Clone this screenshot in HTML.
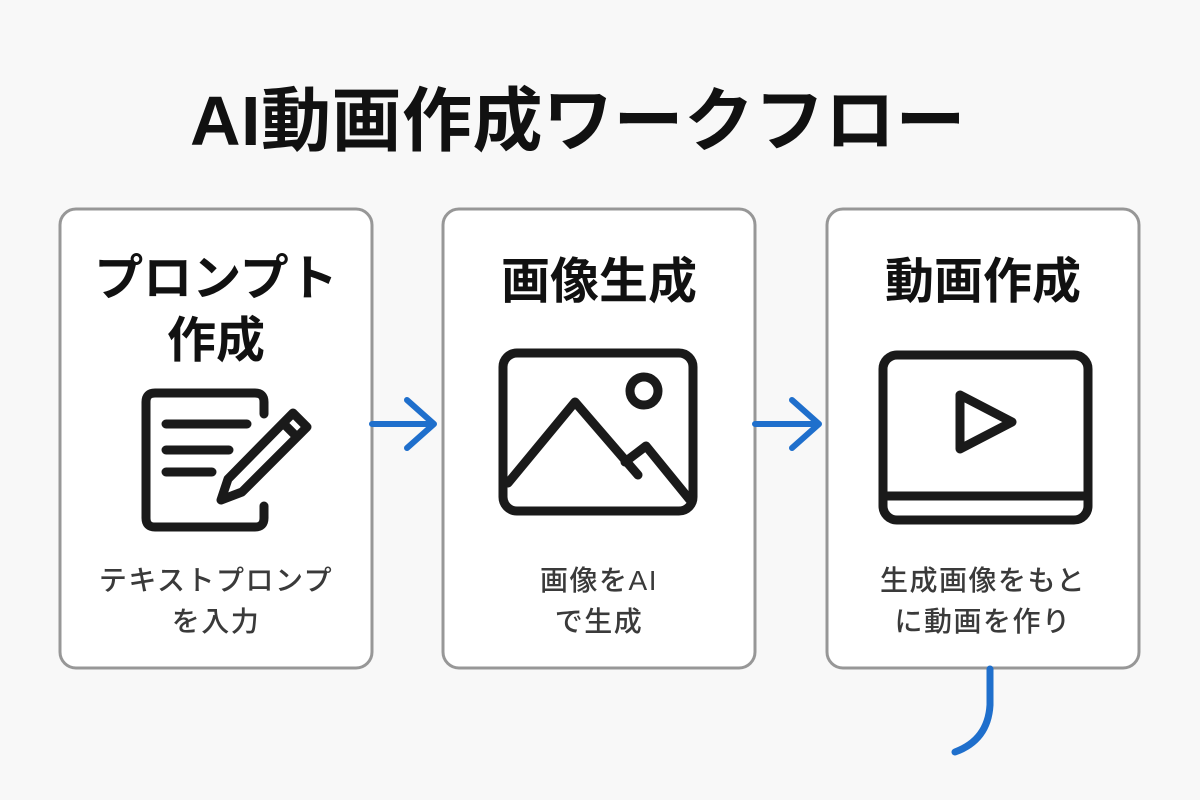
<!DOCTYPE html>
<html><head><meta charset="utf-8"><style>
body{margin:0;width:1200px;height:800px;background:#f8f8f8;overflow:hidden;font-family:"Liberation Sans","Noto Sans CJK JP",sans-serif;}
.t{position:absolute;white-space:nowrap;text-align:center;}
.s{font-size:28px;color:#3a3a3a;line-height:41px;letter-spacing:1.5px;font-weight:500;}
</style></head><body>
<svg width="1200" height="800" style="position:absolute;left:0;top:0">
<g fill="#fff" stroke="#979797" stroke-width="3">
<rect x="60" y="209" width="312" height="459" rx="16"/>
<rect x="443" y="209" width="312" height="459" rx="16"/>
<rect x="827" y="209" width="312" height="459" rx="16"/>
</g>
<g fill="none" stroke="#1a1a1a" stroke-width="9" stroke-linecap="round" stroke-linejoin="round">
<path d="M264 506 V518 Q264 527 255 527 H155 Q146 527 146 518 V402 Q146 393 155 393 H255 Q264 393 264 402 V414"/>
<path d="M166 424 H247 M166 450 H229 M166 472 H212"/>
<path d="M228 479 L293 413 L307 427 L242 492 L221 500 Z M283 423 L297 437"/>
<rect x="503" y="353" width="190" height="158" rx="14"/>
<circle cx="644" cy="391" r="14"/>
<path d="M508 483 L575 402 L638 475 M625 462 L646 446 L690 500"/>
<rect x="883" y="355" width="205" height="165" rx="14"/>
<path d="M883 496 H1088"/>
<path d="M960 395 V449 L1012 422 Z"/>
</g>
<g fill="none" stroke="#1f6fcc" stroke-width="6" stroke-linecap="round" stroke-linejoin="round">
<path d="M372 424 H433 M407 400 L434 424 L407 448"/>
<path d="M755 424 H818 M792 400 L819 424 L792 448"/>
<path d="M990 669 V705 Q988 740 955 752" stroke-width="7"/>
</g>
</svg>
<div class="t" style="left:0;width:1156px;top:76px;font-size:70px;font-weight:bold;color:#111;line-height:90px;letter-spacing:0.5px">AI動画作成ワークフロー</div>
<div class="t" style="left:60px;width:312px;top:248px;font-size:49px;font-weight:bold;color:#111;line-height:62px">プロンプト<br>作成</div>
<div class="t" style="left:443px;width:312px;top:251px;font-size:49px;font-weight:bold;color:#111;line-height:62px">画像生成</div>
<div class="t" style="left:827px;width:312px;top:251px;font-size:49px;font-weight:bold;color:#111;line-height:62px">動画作成</div>
<div class="t s" style="left:60px;width:312px;top:560px">テキストプロンプ<br>を入力</div>
<div class="t s" style="left:443px;width:312px;top:560px">画像をAI<br>で生成</div>
<div class="t s" style="left:827px;width:312px;top:560px">生成画像をもと<br>に動画を作り</div>
</body></html>
